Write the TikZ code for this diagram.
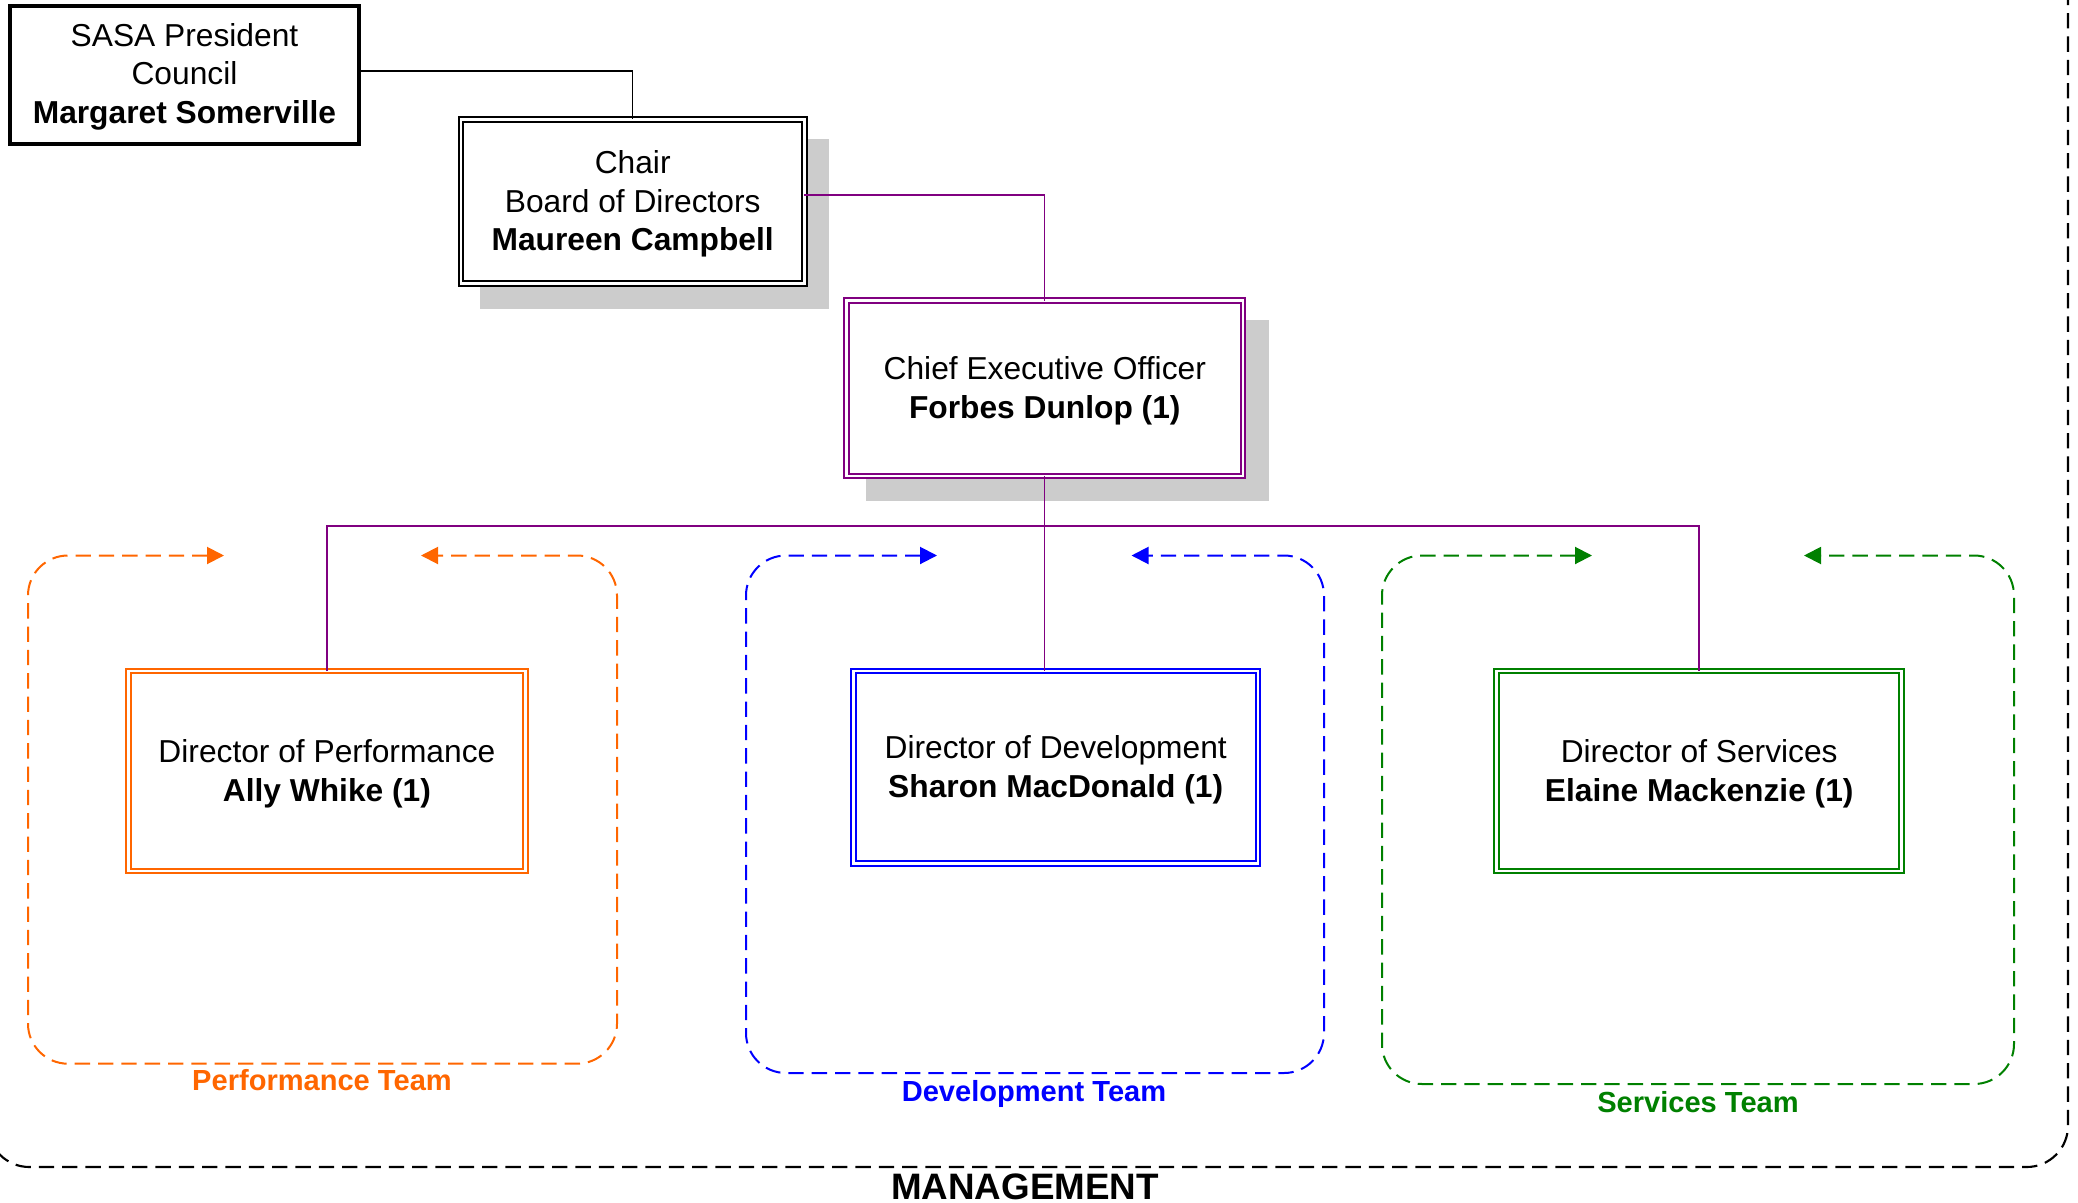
\documentclass[tikz,border=0pt]{standalone}
\usepackage{fontspec}
\setmainfont{Liberation Sans}
\usetikzlibrary{arrows.meta}
\definecolor{orgc}{RGB}{255,102,0}
\definecolor{purc}{RGB}{128,0,128}
\definecolor{grnc}{RGB}{0,128,0}
\definecolor{bluc}{RGB}{0,0,255}
\definecolor{shad}{RGB}{204,204,204}
\pgfdeclarelayer{bg}
\pgfsetlayers{bg,main}
\begin{document}
\begin{tikzpicture}[x=0.75pt,y=-0.75pt,
  box/.style={draw, fill=white, inner sep=0pt, outer sep=0pt},
  txt/.style={inner sep=0pt, align=center, font=\fontsize{23.8}{28.9}\selectfont},
  dbl/.style={box, line width=1.5pt, double=white, double distance=2pt},
  single/.style={box, line width=2.6pt},
  conn/.style={line width=1.1pt},
  teamframe/.style={line width=1.5pt, dash pattern=on 11.5pt off 6pt,
    rounded corners=30pt,
    {Triangle[length=12.75pt,width=12.75pt]}-{Triangle[length=12.75pt,width=12.75pt]}},
  teamlbl/.style={inner sep=0pt, anchor=base, font=\fontsize{21.8}{26}\selectfont\bfseries},
  mgmt/.style={line width=1.6pt, dash pattern=on 11.5pt off 6pt, rounded corners=31pt}
]
\useasboundingbox (0,0) rectangle (2078,1203);

% management frame
\begin{scope}
\clip (0,0) rectangle (2078,1203);
\draw[mgmt] (-12,-60) -- (-12,1167) -- (2068,1167) -- (2068,-60);
\end{scope}

% nodes
\node[single, minimum width=261.75pt, minimum height=103.5pt,
  label={[txt, yshift=-1.3pt]center:{SASA President\\Council\\\textbf{Margaret Somerville}}}]
  (sasa) at (184.5,75) {};
\node[dbl, minimum width=257.55pt, minimum height=123.4pt,
  label={[txt, yshift=-2pt]center:{Chair\\Board of Directors\\\textbf{Maureen Campbell}}}]
  (chair) at (632.7,201.55) {};
\node[dbl, draw=purc, minimum width=297.4pt, minimum height=131.4pt,
  label={[txt, yshift=-2pt]center:{Chief Executive Officer\\\textbf{Forbes Dunlop (1)}}}]
  (ceo) at (1044.75,388.3) {};
\node[dbl, draw=orgc, minimum width=297.45pt, minimum height=149.9pt,
  label={[txt, yshift=-2pt]center:{Director of Performance\\\textbf{Ally Whike (1)}}}]
  (perf) at (326.9,770.95) {};
\node[dbl, draw=bluc, minimum width=303.3pt, minimum height=144.3pt,
  label={[txt, yshift=-2pt]center:{Director of Development\\\textbf{Sharon MacDonald (1)}}}]
  (dev) at (1055.7,767.1) {};
\node[dbl, draw=grnc, minimum width=303.9pt, minimum height=150pt,
  label={[txt, yshift=-2pt]center:{Director of Services\\\textbf{Elaine Mackenzie (1)}}}]
  (serv) at (1699.2,770.9) {};

% shadows
\begin{pgfonlayer}{bg}
\fill[shad] ([shift={(19,19.7)}]chair.north west) rectangle ([shift={(24.6,25.2)}]chair.south east);
\fill[shad] ([shift={(19.5,19.5)}]ceo.north west) rectangle ([shift={(25.8,25.4)}]ceo.south east);
\end{pgfonlayer}

% connectors
\coordinate (bus) at (1044.75,526);
\draw[conn] ([yshift=3pt]sasa.east) -| (chair.north);
\draw[conn, purc] ([yshift=4.9pt]chair.east) -| (ceo.north);
\draw[conn, purc] (ceo.south) -- (bus) -- (bus |- dev.north);
\draw[conn, purc] (perf.north) |- (bus) -| (serv.north);

% team frames
\draw[teamframe, orgc] (224,555.5) -- (28,555.5) -- (28,1063.7) -- (617,1063.7) -- (617,555.5) -- (421,555.5);
\draw[teamframe, bluc] (937,555.5) -- (746,555.5) -- (746,1073) -- (1324,1073) -- (1324,555.5) -- (1131.5,555.5);
\draw[teamframe, grnc] (1592,555.5) -- (1382,555.5) -- (1382,1084) -- (2014,1084) -- (2014,555.5) -- (1804,555.5);

% labels
\node[teamlbl, text=orgc] (lperf) at (322,1090.3) {Performance Team};
\node[teamlbl, text=bluc] (ldev) at (1034,1101.5) {Development Team};
\node[teamlbl, text=grnc] (lserv) at (1698,1112) {Services Team};
\node[inner sep=0pt, anchor=base, font=\fontsize{27.6}{32}\selectfont\bfseries] (lmgmt) at (1025,1199) {MANAGEMENT};
\end{tikzpicture}
\end{document}
